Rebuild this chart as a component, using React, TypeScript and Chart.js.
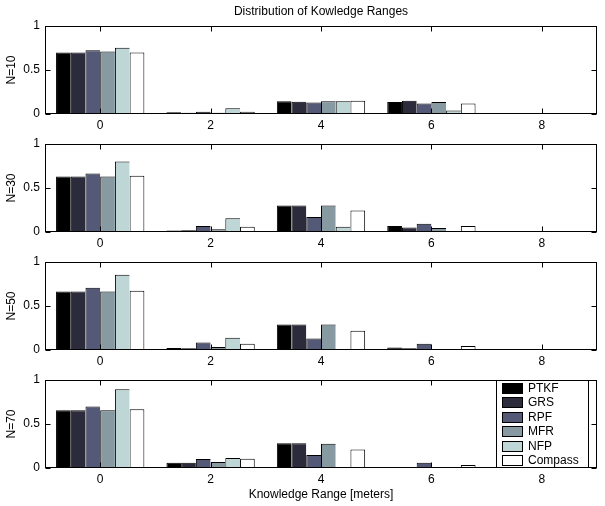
import React, { useEffect, useRef } from 'react';
import { Chart, registerables } from 'chart.js';

Chart.register(...registerables);

// ---------- data ----------
const categories = ['0', '2', '4', '6', '8'];
const seriesNames = ['PTKF', 'GRS', 'RPF', 'MFR', 'NFP', 'Compass'];
const seriesColors = ['#000000', '#2c2b3c', '#545977', '#879aa2', '#bed6d6', '#ffffff'];
const panelLabels = ['N=10', 'N=30', 'N=50', 'N=70'];
const titleText = 'Distribution of Kowledge Ranges';
const xAxisLabel = 'Knowledge Range [meters]';

// rows: PTKF, GRS, RPF, MFR, NFP, Compass ; columns: ranges 0,2,4,6,8
const n10 = [
  [0.70, 0.02, 0.145, 0.135, 0.005],
  [0.70, 0.015, 0.14, 0.15, 0],
  [0.724, 0.025, 0.13, 0.12, 0.008],
  [0.71, 0.015, 0.145, 0.135, 0],
  [0.754, 0.065, 0.145, 0.04, 0],
  [0.70, 0.025, 0.15, 0.12, 0],
];
const n30 = [
  [0.63, 0.018, 0.30, 0.068, 0],
  [0.63, 0.02, 0.30, 0.05, 0],
  [0.665, 0.068, 0.17, 0.095, 0.01],
  [0.63, 0.03, 0.30, 0.046, 0],
  [0.80, 0.155, 0.06, 0.005, 0],
  [0.64, 0.06, 0.245, 0.068, 0],
];
const n50 = [
  [0.665, 0.023, 0.29, 0.027, 0],
  [0.665, 0.02, 0.29, 0.02, 0],
  [0.707, 0.084, 0.13, 0.07, 0],
  [0.665, 0.035, 0.29, 0.012, 0],
  [0.855, 0.138, 0.012, 0.003, 0],
  [0.673, 0.07, 0.22, 0.046, 0],
];
const n70 = [
  [0.657, 0.06, 0.28, 0.01, 0],
  [0.657, 0.06, 0.28, 0.005, 0],
  [0.70, 0.103, 0.147, 0.06, 0],
  [0.657, 0.068, 0.275, 0.005, 0],
  [0.894, 0.114, 0.005, 0, 0],
  [0.668, 0.106, 0.21, 0.034, 0],
];
const panels = [n10, n30, n50, n70];

// ---------- layout ----------
const W = 605;
const FAMILY = "'Liberation Sans', Arial, Helvetica, sans-serif";
const FONT = { size: 12, family: FAMILY, weight: 'normal' as const };
const plotTops = [26, 144, 262, 380];
const plotH = 88;

const layouts = plotTops.map((t, k) => {
  const padTop = k === 0 ? 26 : 20;
  const bottomArea = k === 3 ? 506 - (t + plotH) : 18;
  return { y: t - padTop, h: padTop + plotH + bottomArea, padTop, bottomArea };
});

const framePlugin = {
  id: 'matlabFrame',
  afterDatasetsDraw(chart: any) {
    const { ctx, chartArea: a, scales } = chart;
    const L = Math.round(a.left) + 0.5;
    const R = Math.round(a.right) - 0.5;
    const T = Math.round(a.top) + 0.5;
    const B = Math.round(a.bottom) - 0.5;
    const len = 5;
    ctx.save();
    ctx.strokeStyle = '#000';
    ctx.lineWidth = 1;
    ctx.strokeRect(L, T, R - L, B - T);
    ctx.beginPath();
    scales.x.ticks.forEach((_t: any, i: number) => {
      const px = Math.round(scales.x.getPixelForTick(i)) + 0.5;
      ctx.moveTo(px, B);
      ctx.lineTo(px, B - len);
      ctx.moveTo(px, T);
      ctx.lineTo(px, T + len);
    });
    scales.y.ticks.forEach((t: any) => {
      const py = Math.round(scales.y.getPixelForValue(t.value)) + 0.5;
      ctx.moveTo(L, py);
      ctx.lineTo(L + len, py);
      ctx.moveTo(R, py);
      ctx.lineTo(R - len, py);
    });
    ctx.stroke();
    ctx.restore();
  },
};

const insideLegendPlugin = {
  id: 'insideLegend',
  afterDraw(chart: any, _args: any, opts: any) {
    if (!opts || !opts.display) return;
    const { ctx, chartArea: a } = chart;
    const right = Math.round(a.right) - 8;
    const left = right - 93;
    const top = Math.round(a.top);
    const bottom = Math.round(a.bottom);
    ctx.save();
    ctx.fillStyle = '#fff';
    ctx.fillRect(left, top, right - left, bottom - top);
    ctx.strokeStyle = '#000';
    ctx.lineWidth = 1;
    ctx.strokeRect(left + 0.5, top + 0.5, right - left - 1, bottom - top - 1);
    ctx.font = `12px ${FAMILY}`;
    ctx.textBaseline = 'middle';
    ctx.textAlign = 'left';
    chart.data.datasets.forEach((ds: any, i: number) => {
      const cy = Math.round(top + 7.5 + 14.5 * i);
      ctx.fillStyle = ds.backgroundColor;
      ctx.fillRect(left + 6, cy - 5, 21, 10);
      ctx.strokeRect(left + 6.5, cy - 4.5, 20, 10);
      ctx.fillStyle = '#000';
      ctx.fillText(ds.label, left + 32, cy + 0.5);
    });
    ctx.restore();
  },
};

export default function App() {
  const r0 = useRef<HTMLCanvasElement>(null);
  const r1 = useRef<HTMLCanvasElement>(null);
  const r2 = useRef<HTMLCanvasElement>(null);
  const r3 = useRef<HTMLCanvasElement>(null);
  const refs = [r0, r1, r2, r3];

  useEffect(() => {
    const charts = panels.map((values, k) => {
      const lay = layouts[k];
      const datasets = seriesNames.map((name, i) => ({
        label: name,
        data: values[i],
        backgroundColor: seriesColors[i],
        borderColor: '#000',
        borderWidth: i === seriesNames.length - 1 ? 1 : { left: 1, top: 1, right: 0, bottom: 0 },
        categoryPercentage: 0.8,
        barPercentage: 1.0,
      }));
      return new Chart(refs[k].current as HTMLCanvasElement, {
        type: 'bar',
        data: { labels: categories, datasets },
        plugins: [framePlugin, insideLegendPlugin],
        options: {
          animation: false,
          responsive: false,
          devicePixelRatio: 1,
          layout: { padding: { top: k === 0 ? 0 : lay.padTop, right: 8, left: 0, bottom: 0 } },
          plugins: {
            legend: { display: false },
            tooltip: { enabled: false },
            title: {
              display: k === 0,
              text: titleText,
              fullSize: false,
              color: '#000',
              font: FONT,
              padding: { top: 4, bottom: 7.6 },
            },
            insideLegend: { display: k === 3 },
          } as any,
          scales: {
            x: {
              type: 'category',
              offset: true,
              grid: { display: false, drawTicks: false },
              border: { display: false },
              ticks: { color: '#000', font: FONT, padding: 4, maxRotation: 0, autoSkip: false },
              title: {
                display: k === 3,
                text: xAxisLabel,
                color: '#000',
                font: FONT,
                padding: { top: 0, bottom: 4 },
              },
              afterFit: (s: any) => {
                s.height = lay.bottomArea;
              },
            },
            y: {
              min: 0,
              max: 1,
              grid: { display: false, drawTicks: false },
              border: { display: false },
              ticks: {
                stepSize: 0.5,
                color: '#000',
                font: FONT,
                padding: 5,
                callback: (v: any) => String(Number(v)),
              },
              title: {
                display: true,
                text: panelLabels[k],
                color: '#000',
                font: FONT,
                padding: { top: 4, bottom: 0 },
              },
              afterFit: (s: any) => {
                s.width = 45;
              },
            },
          },
        } as any,
      });
    });
    return () => charts.forEach((c) => c.destroy());
  }, []);

  return (
    <div style={{ position: 'fixed', left: 0, top: 0, width: W, height: 506, background: '#fff' }}>
      {layouts.map((l, k) => (
        <canvas
          key={k}
          ref={refs[k]}
          width={W}
          height={l.h}
          style={{ position: 'absolute', left: 0, top: l.y, width: W, height: l.h }}
        />
      ))}
    </div>
  );
}
